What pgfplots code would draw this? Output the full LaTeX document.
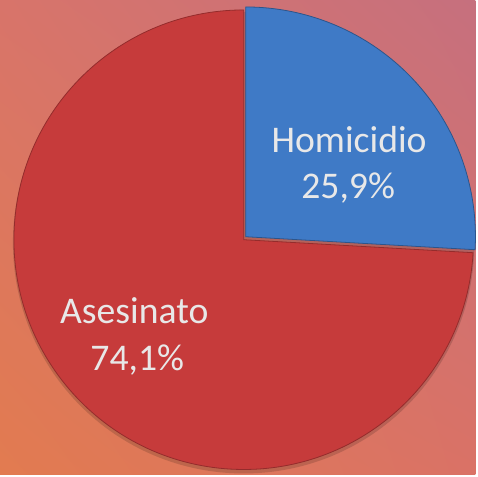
\documentclass[border=0pt]{standalone}
\usepackage{pgfplots}
\usepackage{pgfplotstable}
\pgfplotsset{compat=1.18}
\usetikzlibrary{shadings}
\usepackage{fontspec}
\setmainfont{Carlito}
\definecolor{bgTL}{HTML}{D8746A}
\definecolor{bgTR}{HTML}{C6707E}
\definecolor{bgBL}{HTML}{E27B50}
\definecolor{bgBR}{HTML}{DA7266}
\definecolor{redS}{HTML}{C63B3B}
\definecolor{blueS}{HTML}{3F7AC6}
\definecolor{txt}{HTML}{E8E8E8}
\pgfplotstableread{
label value
Homicidio 25.9
Asesinato 74.1
}\piedata
\begin{document}
\begin{tikzpicture}
\pgfplotstablegetelem{0}{value}\of\piedata
\pgfmathsetmacro\endA{90-3.6*\pgfplotsretval}
\begin{axis}[scale only axis, width=478bp, height=477bp,
  xmin=0, xmax=478, ymin=0, ymax=477, axis lines=none, clip=false]
\shade[upper left=bgTL, upper right=bgTR, lower left=bgBL, lower right=bgBR]
  (axis cs:0,0) rectangle (axis cs:478,477);
% shadow
\fill[black, opacity=0.15] (axis cs:245,233) circle[radius=232bp];
% red slice
\fill[redS, draw=redS!75!black, line width=0.8bp] (axis cs:245,236) -- ([shift={(\endA:231bp)}]axis cs:245,236)
  arc[start angle=\endA, end angle=-270, radius=231bp] -- cycle;
% blue slice (slightly exploded)
\fill[blueS, draw=blueS!70!black, line width=0.8bp] (axis cs:247,239) -- ([shift={(90:231bp)}]axis cs:247,239)
  arc[start angle=90, end angle=\endA, radius=231bp] -- cycle;
\begin{scope}[every node/.style={anchor=base, text=txt, font=\fontsize{38}{42}\selectfont, inner sep=0pt}]
\node at (axis cs:351,324) {Homicidio};
\node at (axis cs:350,277) {25,9\%};
\node at (axis cs:135,152) {Asesinato};
\node at (axis cs:138,105) {74,1\%};
\end{scope}
\end{axis}
\end{tikzpicture}
\end{document}
